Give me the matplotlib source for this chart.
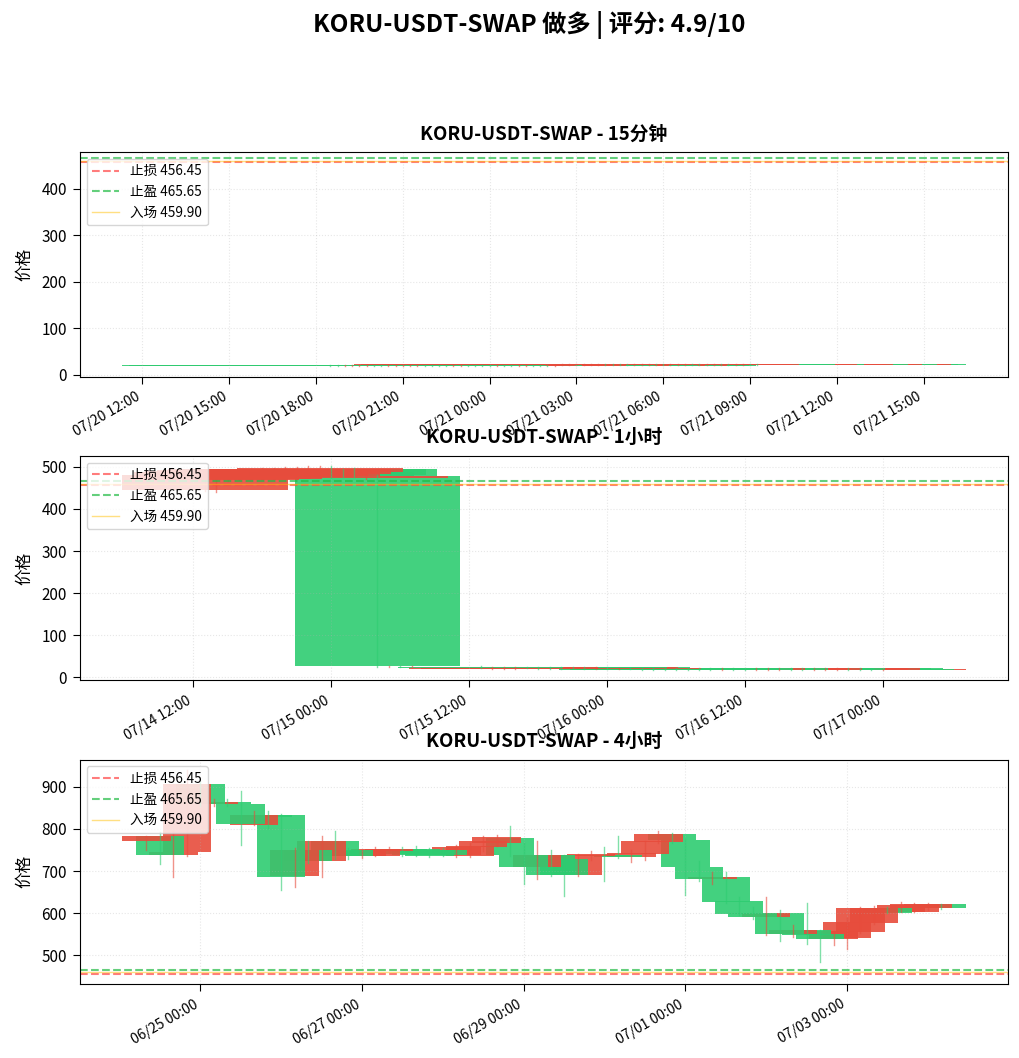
import matplotlib
matplotlib.use("Agg")
import matplotlib.pyplot as plt
import matplotlib.dates as mdates
import pandas as pd

plt.rcParams['font.family'] = ['Noto Sans CJK SC', 'DejaVu Sans']
plt.rcParams['axes.unicode_minus'] = False

symbol = "KORU-USDT-SWAP"
score = 4.9
stop_loss = 456.45
take_profit = 465.65
entry_price = 459.90

UP = '#2ecc71'
DOWN = '#e74c3c'

# ---- 15分钟 ----
m15_start = "2025-07-20 18:30"
m15_open = [18.6, 19.1, 20.4, 20.2, 20.0, 20.3, 19.2, 19.0, 20.5, 20.6,
            20.4, 20.5, 20.3, 19.3, 19.2, 19.4, 19.3, 20.6, 20.7, 19.5,
            19.4, 19.6, 19.5, 20.8, 19.6, 19.7, 20.9, 21.0, 19.8, 19.9,
            19.7, 21.1, 22.8, 22.3, 22.2, 22.4, 22.3, 22.1, 21.5, 21.4,
            21.6, 21.5, 22.5, 22.4, 22.3, 21.6, 21.5, 22.4, 22.3, 22.5,
            21.7, 21.6, 22.4, 22.3, 21.7, 21.6, 22.5, 22.4, 21.8, 21.7]
m15_close = [20.6, 20.3, 19.5, 19.3, 19.2, 19.4, 20.1, 20.0, 19.6, 19.7,
             19.6, 19.5, 19.4, 20.2, 20.4, 20.3, 20.1, 19.7, 19.8, 20.4,
             20.3, 20.5, 20.4, 19.9, 20.5, 20.6, 20.0, 20.1, 20.7, 20.8,
             20.6, 20.2, 20.5, 21.4, 21.5, 21.6, 21.5, 21.4, 22.3, 22.2,
             22.4, 22.3, 21.7, 21.6, 21.5, 22.4, 22.2, 21.6, 21.7, 21.8,
             22.4, 22.3, 21.7, 21.6, 22.4, 22.3, 21.8, 21.7, 22.5, 22.4]
m15_high = [21.0, 20.6, 20.7, 20.5, 20.4, 20.6, 20.4, 20.3, 20.8, 20.9,
            20.7, 20.8, 20.6, 20.5, 20.7, 20.6, 20.5, 20.9, 21.0, 20.7,
            20.6, 20.8, 20.7, 21.1, 20.8, 20.9, 21.2, 21.3, 21.0, 21.1,
            20.9, 21.4, 23.1, 22.6, 22.5, 22.7, 22.6, 22.4, 22.6, 22.5,
            22.7, 22.6, 22.8, 22.7, 22.6, 22.7, 22.5, 22.7, 22.6, 22.8,
            22.7, 22.6, 22.7, 22.6, 22.7, 22.6, 22.8, 22.7, 22.8, 22.7]
m15_low = [18.3, 18.9, 19.2, 19.0, 18.9, 19.1, 19.0, 18.8, 19.4, 19.5,
           19.3, 19.2, 19.1, 19.1, 19.0, 19.2, 19.1, 19.5, 19.6, 19.3,
           19.2, 19.4, 19.3, 19.7, 19.4, 19.5, 19.8, 19.9, 19.6, 19.7,
           19.5, 20.0, 20.3, 21.2, 21.3, 21.4, 21.3, 21.2, 21.3, 21.2,
           21.4, 21.3, 21.5, 21.4, 21.3, 21.4, 21.3, 21.4, 21.5, 21.6,
           21.5, 21.4, 21.5, 21.4, 21.5, 21.4, 21.6, 21.5, 21.6, 21.5]

# ---- 1小时 ----
h1_start = "2025-07-14 13:00"
h1_open = [481, 488, 489, 492, 494, 493, 495, 496, 495, 496,
           497.7, 478, 480, 479, 479, 25.8, 25.5, 24.4, 25.6, 25.2,
           24.1, 25.1, 23.9, 24.9, 22.0, 24.2, 24.0, 24.1, 21.2, 21.0,
           21.1, 21.0, 21.2, 21.1, 24.1, 21.0, 22.0, 19.8, 17.4, 17.3,
           17.4, 17.3, 17.5, 17.4, 17.3, 21.0, 17.5, 17.4, 21.0, 21.1,
           21.0, 17.3, 17.4, 21.8, 21.7, 21.6, 17.4, 17.3, 18.2, 19.0]
h1_close = [446, 468, 470, 472, 476, 476, 477, 478, 479, 483,
            488.3, 488, 494, 494, 473, 479, 24.6, 25.3, 24.5, 24.3,
            25.0, 24.2, 24.8, 23.8, 25.5, 19.8, 20.0, 19.9, 24.1, 24.0,
            24.2, 24.0, 24.1, 23.9, 21.1, 24.0, 19.6, 21.8, 21.0, 21.1,
            21.0, 20.9, 21.0, 20.9, 21.0, 17.8, 21.0, 20.9, 17.7, 17.8,
            17.7, 21.0, 20.9, 17.3, 17.4, 17.5, 21.0, 20.9, 19.2, 18.2]
h1_high = [484, 490, 492, 494, 496, 497, 498, 500, 499, 501,
           501, 502, 496, 497, 482, 481, 26.0, 25.8, 26.0, 25.6,
           25.4, 25.5, 25.2, 25.3, 25.9, 24.6, 24.4, 24.5, 24.5, 24.4,
           24.6, 24.3, 24.5, 24.3, 24.5, 24.4, 22.4, 22.2, 21.4, 21.5,
           21.3, 21.2, 21.4, 21.3, 21.3, 21.3, 21.3, 21.2, 21.3, 21.4,
           21.3, 21.3, 21.2, 22.1, 22.0, 21.9, 21.3, 21.2, 19.5, 19.3]
h1_low = [443, 441, 466, 468, 470, 472, 473, 475, 476, 480,
          485, 474, 477, 476, 470, 24.5, 24.0, 24.0, 24.1, 23.8,
          23.7, 23.8, 23.5, 23.4, 21.6, 19.5, 19.7, 19.6, 20.9, 20.7,
          20.8, 20.6, 20.9, 20.8, 20.8, 20.7, 19.4, 19.5, 17.2, 17.1,
          17.2, 17.1, 17.3, 17.2, 17.1, 17.6, 17.3, 17.2, 17.5, 17.6,
          17.5, 17.1, 17.2, 17.1, 17.2, 17.3, 17.2, 17.1, 18.0, 18.0]

# ---- 4小时 ----
h4_start = "2025-06-24 08:00"
h4_open = [782.4, 737.0, 744.2, 907.2, 859.5, 864.2, 858.0, 811.8, 831.6, 826.9,
           687.0, 750.6, 722.7, 772.0, 734.7, 734.7, 746.6, 752.1, 752.1, 740.2,
           738.6, 736.2, 738.6, 756.9, 760.1, 770.4, 780.0, 738.6, 708.4, 738.6,
           690.9, 690.9, 738.6, 740.2, 734.7, 732.3, 742.6, 770.4, 788.7, 774.4,
           708.4, 682.2, 686.2, 627.3, 598.7, 591.6, 599.5, 551.0, 559.8, 547.9,
           538.3, 557.4, 578.1, 613.0, 613.0, 601.1, 619.4, 621.8, 621.8, 613.0]
h4_close = [770.4, 783.9, 737.0, 744.2, 907.2, 859.5, 864.2, 859.5, 810.2, 831.6,
            831.6, 688.5, 750.6, 722.7, 772.0, 750.6, 734.7, 736.2, 748.2, 752.1,
            752.1, 750.6, 750.6, 738.6, 736.2, 756.9, 766.5, 778.4, 738.6, 708.4,
            738.6, 728.3, 690.9, 734.7, 738.6, 738.6, 732.3, 741.0, 768.0, 788.7,
            774.4, 709.2, 681.4, 686.2, 628.9, 599.5, 591.6, 599.5, 551.0, 559.8,
            550.2, 538.3, 541.5, 555.0, 576.5, 613.0, 603.5, 603.5, 613.0, 621.8]
h4_high = [783.9, 791.9, 794.3, 940.0, 913.5, 870.0, 871.4, 889.7, 842.0, 842.0,
           834.0, 754.5, 771.2, 783.9, 795.9, 754.5, 750.6, 756.0, 756.0, 756.9,
           758.5, 754.5, 754.0, 762.5, 766.5, 782.4, 786.3, 806.2, 766.5, 770.4,
           750.6, 738.6, 740.0, 748.2, 756.9, 783.9, 749.0, 772.0, 794.3, 790.0,
           776.0, 722.7, 698.9, 698.9, 639.3, 615.4, 639.3, 607.5, 571.7, 623.4,
           559.8, 558.5, 587.6, 615.4, 617.8, 615.4, 627.3, 623.4, 623.4, 622.5]
h4_low = [749.0, 716.4, 687.0, 734.7, 853.9, 855.0, 853.9, 762.5, 808.6, 802.2,
          655.2, 663.1, 718.8, 687.0, 729.1, 729.1, 732.0, 734.7, 744.2, 734.7,
          734.7, 733.0, 735.5, 733.0, 733.0, 746.6, 760.1, 736.0, 669.5, 681.4,
          688.0, 640.9, 688.5, 726.7, 677.4, 730.0, 720.3, 726.7, 766.5, 766.5,
          643.2, 677.4, 669.5, 625.0, 595.5, 586.0, 547.9, 533.5, 543.9, 526.4,
          484.3, 524.0, 514.5, 553.0, 575.7, 599.5, 602.0, 602.0, 607.5, 611.0]


def draw_candles(ax, times, o, h, l, c, title, locator):
    x = mdates.date2num(times)
    # newest first, like the exchange returns it
    for i in reversed(range(len(x))):
        color = UP if c[i] >= o[i] else DOWN
        ax.plot([x[i], x[i]], [l[i], h[i]], color=color, linewidth=1, alpha=0.6)
        ax.bar(x[i], abs(c[i] - o[i]), bottom=min(o[i], c[i]), width=0.6,
               color=color, alpha=0.9)

    ax.axhline(stop_loss, color='#ff4444', linestyle='--', linewidth=1.5, alpha=0.7,
               label=f'止损 {stop_loss:.2f}')
    ax.axhline(take_profit, color='#22bb44', linestyle='--', linewidth=1.5, alpha=0.7,
               label=f'止盈 {take_profit:.2f}')
    ax.axhline(entry_price, color='#ffc107', linestyle='-', linewidth=1, alpha=0.5,
               label=f'入场 {entry_price:.2f}')

    ax.set_title(title, fontsize=13.5, fontweight='bold', pad=9)
    ax.set_ylabel('价格', fontsize=12, labelpad=6)
    ax.grid(True, alpha=0.3, linestyle=':')
    ax.legend(loc='upper left', fontsize=9.8)
    ax.tick_params(axis='both', length=5, pad=4.5)
    ax.tick_params(axis='y', labelsize=11)
    ax.xaxis.set_major_locator(locator)
    ax.xaxis.set_major_formatter(mdates.DateFormatter('%m/%d %H:%M'))
    plt.setp(ax.get_xticklabels(), rotation=30, ha='right', fontsize=10)


fig, axes = plt.subplots(3, 1, figsize=(10.2, 10.58), dpi=100)
fig.subplots_adjust(left=0.0784, right=0.988, top=0.8563, bottom=0.0699, hspace=0.353)

t15 = pd.date_range(m15_start, periods=len(m15_open), freq='15min')
t1h = pd.date_range(h1_start, periods=len(h1_open), freq='1h')
t4h = pd.date_range(h4_start, periods=len(h4_open), freq='4h')

draw_candles(axes[0], t15, m15_open, m15_high, m15_low, m15_close,
             f'{symbol} - 15分钟', mdates.HourLocator(byhour=range(0, 24, 3)))
draw_candles(axes[1], t1h, h1_open, h1_high, h1_low, h1_close,
             f'{symbol} - 1小时', mdates.HourLocator(byhour=[0, 12]))
draw_candles(axes[2], t4h, h4_open, h4_high, h4_low, h4_close,
             f'{symbol} - 4小时', mdates.DayLocator(bymonthday=range(1, 32, 2)))

fig.suptitle(f'{symbol} 做多 | 评分: {score}/10', fontsize=17.5, fontweight='bold',
             x=0.519, y=0.99)

fig.savefig('out.png', dpi=100)
